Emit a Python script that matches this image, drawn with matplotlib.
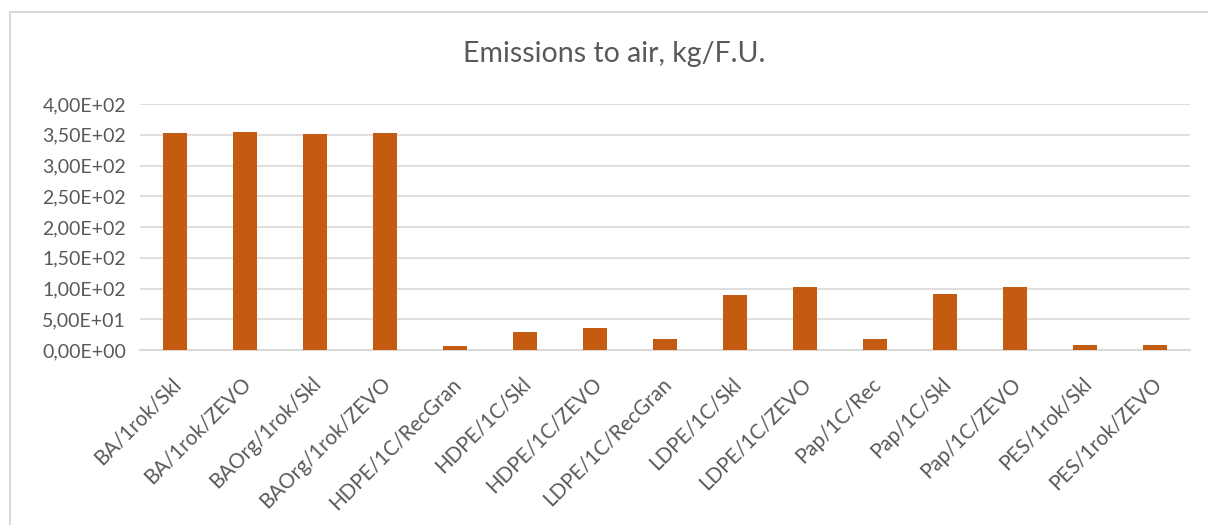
import numpy as np
import matplotlib.pyplot as plt
import matplotlib.transforms as mtransforms
from matplotlib.patches import Rectangle
from matplotlib.ticker import FuncFormatter

plt.rcParams['font.family'] = ['Lato', 'DejaVu Sans']

# Datos
escenarios = ['BA/1rok/Skl', 'BA/1rok/ZEVO', 'BAOrg/1rok/Skl', 'BAOrg/1rok/ZEVO',
              'HDPE/1C/RecGran', 'HDPE/1C/Skl', 'HDPE/1C/ZEVO', 'LDPE/1C/RecGran',
              'LDPE/1C/Skl', 'LDPE/1C/ZEVO', 'Pap/1C/Rec', 'Pap/1C/Skl',
              'Pap/1C/ZEVO', 'PES/1rok/Skl', 'PES/1rok/ZEVO']
emisiones = [353, 354, 352, 353, 7, 29.5, 35, 17.5, 90, 102, 17.5, 90.5, 103, 8.7, 8.7]

color_barra = '#C55A11'
color_texto = '#595959'
color_rejilla = '#D9D9D9'

fig = plt.figure(figsize=(12.08, 5.25), dpi=100)

# marco del grafico
fig.patches.append(Rectangle((10 / 1208, -0.1), 1.2, 1 - 12 / 525 + 0.1,
                             transform=fig.transFigure, fill=False,
                             edgecolor=color_rejilla, linewidth=1.5))

ax = fig.add_axes([140 / 1208, 1 - 350 / 525, 1050 / 1208, (350 - 104) / 525])
x = np.arange(len(escenarios))
ax.bar(x, emisiones, width=0.33, color=color_barra, zorder=3)

ax.set_xlim(-0.5, len(escenarios) - 0.5)
ax.set_ylim(0, 400)
ax.set_yticks(np.arange(0, 401, 50))


def formato(v, pos):
    if v == 0:
        return '0,00E+00'
    exp = int(np.floor(np.log10(abs(v))))
    man = v / 10 ** exp
    return f'{man:.2f}'.replace('.', ',') + f'E+{exp:02d}'


ax.yaxis.set_major_formatter(FuncFormatter(formato))
ax.grid(axis='y', color=color_rejilla, linewidth=1.2, zorder=0)
for s in ['top', 'right', 'left']:
    ax.spines[s].set_visible(False)
ax.spines['bottom'].set_color(color_rejilla)
ax.spines['bottom'].set_linewidth(1.5)
ax.tick_params(axis='both', length=0, colors=color_texto)
ax.tick_params(axis='y', pad=10, labelsize=14)

ax.set_xticks(x)
ax.set_xticklabels(escenarios, rotation=45, ha='right', rotation_mode='anchor')
ax.tick_params(axis='x', pad=17, labelsize=14.8)
# desplazar etiquetas un poco a la izquierda
desp = mtransforms.ScaledTranslation(-4 / 100, 0, fig.dpi_scale_trans)
for lbl in ax.get_xticklabels():
    lbl.set_transform(lbl.get_transform() + desp)

fig.text(614 / 1208, 1 - 54 / 525, 'Emissions to air, kg/F.U.', ha='center',
         va='center', fontsize=20.5, color=color_texto)

fig.savefig('out.png', dpi=100)
